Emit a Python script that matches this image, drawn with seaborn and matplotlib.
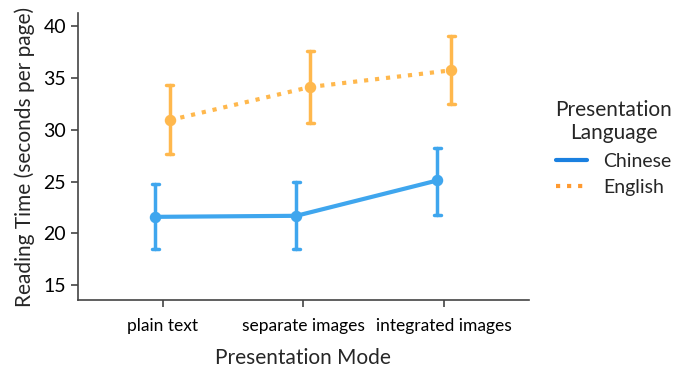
import seaborn as sns
import matplotlib.pyplot as plt
import pandas as pd
from matplotlib.lines import Line2D

modes = ["plain text", "separate images", "integrated images"]
languages = ["Chinese", "English"]

# mean reading time and error bar ends, per language, in mode order
chinese_mean = [21.6, 21.7, 25.1]
chinese_low = [18.5, 18.5, 21.8]
chinese_high = [24.8, 25.0, 28.2]
english_mean = [30.9, 34.1, 35.7]
english_low = [27.6, 30.6, 32.5]
english_high = [34.3, 37.6, 39.0]

line_colors = ["#3fa6ee", "#ffb84d"]
legend_colors = ["#1a80e0", "#ff9a30"]

rows = []
for lang, mean, low, high in [("Chinese", chinese_mean, chinese_low, chinese_high),
                              ("English", english_mean, english_low, english_high)]:
    for m, mu, lo, hi in zip(modes, mean, low, high):
        for v in (lo, mu, hi):
            rows.append({"mode": m, "language": lang, "time": v})
df = pd.DataFrame(rows)

sns.set_style("ticks")
plt.rcParams['font.family'] = ['Lato', 'DejaVu Sans']

fig = plt.figure(figsize=(6.78, 3.75), dpi=100)
ax = fig.add_axes([0.115, 0.2, 0.665, 0.765])

sns.pointplot(data=df, x="mode", y="time", hue="language", order=modes,
              hue_order=languages, estimator="median",
              errorbar=lambda v: (v.min(), v.max()),
              dodge=0.1, palette=line_colors, markers="o",
              linestyles=["-", ":"], capsize=0.05, err_kws={"linewidth": 2.5},
              markersize=6, linewidth=3, ax=ax, legend=False)

ax.set_ylim(13.6, 41.2)
ax.set_xlim(-0.6, 2.6)
ax.set_yticks([15, 20, 25, 30, 35, 40])
ax.tick_params(axis="y", labelsize=14, width=1.2, length=5, colors="#444444", labelcolor="black")
ax.tick_params(axis="x", labelsize=12.5, width=1.2, length=5, colors="#444444", labelcolor="black", pad=8)
ax.set_xlabel("Presentation Mode", fontsize=15, labelpad=10)
ax.set_ylabel("Reading Time (seconds per page)", fontsize=15, labelpad=6)
for s in ["left", "bottom"]:
    ax.spines[s].set_color("#444444")
    ax.spines[s].set_linewidth(1.2)
sns.despine(ax=ax)

handles = [Line2D([], [], color=legend_colors[0], lw=3, ls="-"),
           Line2D([], [], color=legend_colors[1], lw=3, ls=":")]
leg = ax.legend(handles, languages, title="Presentation\nLanguage",
                loc="center left", bbox_to_anchor=(1.02, 0.53), frameon=False,
                fontsize=14, title_fontsize=15, handlelength=1.6,
                handletextpad=0.8, labelspacing=0.5)
leg.get_title().set_multialignment("center")

fig.savefig("out.png", dpi=100)
